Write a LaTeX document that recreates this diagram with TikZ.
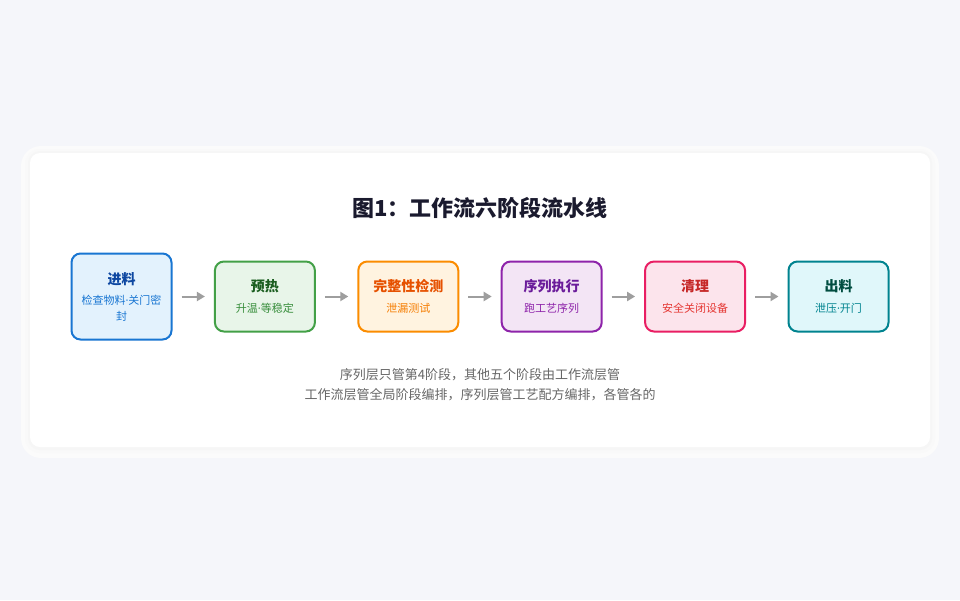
\documentclass[tikz,border=0pt]{standalone}
\usepackage{fontspec}
\setmainfont{Noto Sans CJK SC}
\newfontfamily\latinfont{Noto Sans}
\usepackage{xcolor}
\usetikzlibrary{positioning}
\usetikzlibrary{arrows.meta}

\definecolor{pagebg}{HTML}{F5F6FA}
\definecolor{titlecol}{HTML}{1A1A2E}
\definecolor{notecol}{HTML}{666666}
\definecolor{arrowcol}{HTML}{9E9E9E}
\definecolor{blueln}{HTML}{1976D2}\definecolor{bluebg}{HTML}{E3F2FD}
\definecolor{bluetx}{HTML}{0D47A1}\definecolor{bluesub}{HTML}{1976D2}
\definecolor{greenln}{HTML}{43A047}\definecolor{greenbg}{HTML}{E8F5E9}
\definecolor{greentx}{HTML}{1B5E20}\definecolor{greensub}{HTML}{388E3C}
\definecolor{orangeln}{HTML}{FB8C00}\definecolor{orangebg}{HTML}{FFF3E0}
\definecolor{orangetx}{HTML}{E65100}\definecolor{orangesub}{HTML}{F57C00}
\definecolor{purpleln}{HTML}{8E24AA}\definecolor{purplebg}{HTML}{F3E5F5}
\definecolor{purpletx}{HTML}{6A1B9A}\definecolor{purplesub}{HTML}{8E24AA}
\definecolor{pinkln}{HTML}{E91E63}\definecolor{pinkbg}{HTML}{FCE4EC}
\definecolor{pinktx}{HTML}{C62828}\definecolor{pinksub}{HTML}{E53935}
\definecolor{tealln}{HTML}{00838F}\definecolor{tealbg}{HTML}{E0F7FA}
\definecolor{tealtx}{HTML}{004D40}\definecolor{tealsub}{HTML}{00838F}

\newcommand{\stagetitle}{\fontsize{14}{17}\selectfont\bfseries}
\newcommand{\stagesub}{\fontsize{11}{16}\selectfont}
\newcommand{\middot}{{\latinfont ·}}

\tikzset{
  stagebox/.style={draw, line width=2pt, rounded corners=9pt, font=\stagesub,
    minimum width=100pt, minimum height=70pt, align=center, inner sep=0pt},
  flowarrow/.style={draw=arrowcol, line width=2pt,
    -{Triangle[length=8pt,width=9pt]}, shorten <=9pt, shorten >=9pt}
}

\begin{document}
\begin{tikzpicture}[x=1pt,y=-1pt]
  % Background and card
  \fill[pagebg] (0,0) rectangle (960,600);
  \fill[black!1.5, rounded corners=20pt] (21,146) rectangle (939,458);
  \fill[black!2.5, rounded corners=15pt] (25,149) rectangle (935,453);
  \fill[black!3.5, rounded corners=12pt] (28,151) rectangle (932,450);
  \fill[white, rounded corners=10pt] (30,153) rectangle (930,447);

  % Title
  \node[font=\fontsize{22}{26}\selectfont\bfseries, text=titlecol] (title) at (480,208) {图1：工作流六阶段流水线};

  % Stages
  \node[stagebox, draw=blueln, fill=bluebg, minimum height=86pt] (jinliao) at (121.5,296.5)
    {{\stagetitle\color{bluetx}进料}\\[4pt]{\color{bluesub}检查物料\middot 关门密}\\{\color{bluesub}封}};
  \node[stagebox, draw=greenln, fill=greenbg, right=41.4pt of jinliao] (yure)
    {{\stagetitle\color{greentx}预热}\\[5pt]{\color{greensub}升温\middot 等稳定}};
  \node[stagebox, draw=orangeln, fill=orangebg, right=41.4pt of yure] (jiance)
    {{\stagetitle\color{orangetx}完整性检测}\\[5pt]{\color{orangesub}泄漏测试}};
  \node[stagebox, draw=purpleln, fill=purplebg, right=41.4pt of jiance] (zhixing)
    {{\stagetitle\color{purpletx}序列执行}\\[5pt]{\color{purplesub}跑工艺序列}};
  \node[stagebox, draw=pinkln, fill=pinkbg, right=41.4pt of zhixing] (qingli)
    {{\stagetitle\color{pinktx}清理}\\[5pt]{\color{pinksub}安全关闭设备}};
  \node[stagebox, draw=tealln, fill=tealbg, right=41.4pt of qingli] (chuliao)
    {{\stagetitle\color{tealtx}出料}\\[5pt]{\color{tealsub}泄压\middot 开门}};

  % Arrows
  \draw[flowarrow] (jinliao) -- (yure);
  \draw[flowarrow] (yure) -- (jiance);
  \draw[flowarrow] (jiance) -- (zhixing);
  \draw[flowarrow] (zhixing) -- (qingli);
  \draw[flowarrow] (qingli) -- (chuliao);

  % Note
  \node[font=\fontsize{13}{20}\selectfont, text=notecol, align=center] (note) at (480,385)
    {序列层只管第4阶段，其他五个阶段由工作流层管\\工作流层管全局阶段编排，序列层管工艺配方编排，各管各的};
\end{tikzpicture}
\end{document}
